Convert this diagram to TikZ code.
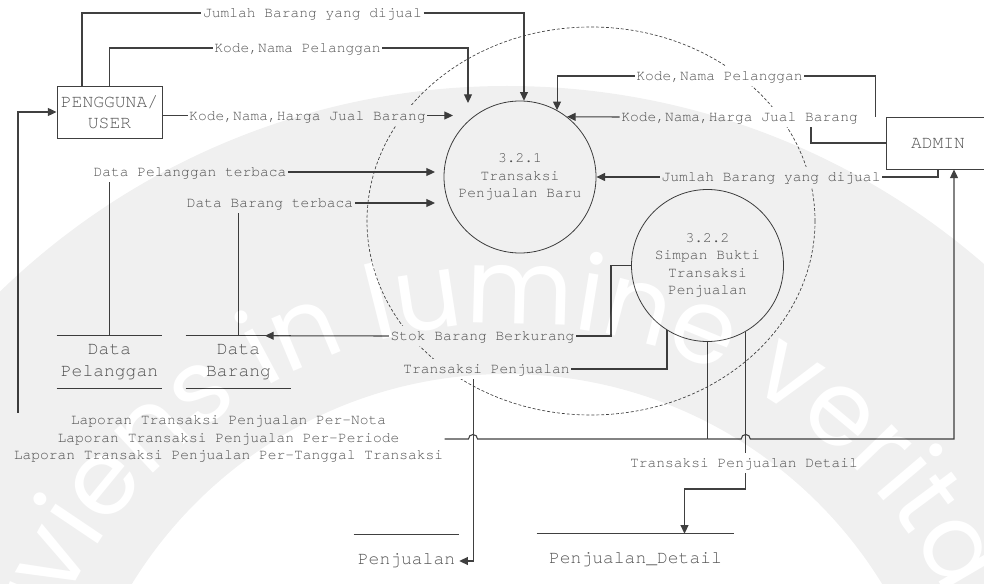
\documentclass[tikz,border=0pt]{standalone}
\usepackage{fontspec}
\setmonofont{TeX Gyre Cursor}
\newfontfamily\wmfont{Poppins}
\usetikzlibrary{arrows.meta,calc,decorations.text}
\definecolor{ink}{HTML}{404040}
\definecolor{txt}{HTML}{555555}
\pgfdeclarelayer{bg}
\pgfsetlayers{bg,main}
\begin{document}
\begin{tikzpicture}[x=0.75pt,y=-0.75pt,
  line/.style={draw=ink, line width=0.8pt},
  arr/.style={line, -{Triangle[length=6.5pt,width=6pt]}},
  entity/.style={draw=ink, line width=0.7pt, minimum width=78.75pt, minimum height=39pt,
    inner sep=0pt, align=center, text=txt, font=\fontsize{13.5}{15.75}\selectfont\ttfamily},
  proc/.style={circle, draw=ink, line width=0.6pt, minimum size=114pt, inner sep=0pt,
    align=center, text=txt, font=\fontsize{10.95}{13}\selectfont\ttfamily},
  store/.style={minimum width=78.75pt, minimum height=39pt, inner sep=0pt, align=center,
    text=txt, font=\fontsize{13.5}{16.5}\selectfont\ttfamily},
  flow/.style={fill=white, inner xsep=1pt, inner ysep=0pt, text height=11pt, text depth=4pt,
    text=txt, font=\fontsize{10.95}{13}\selectfont\ttfamily},
  flowm/.style={fill=white, inner xsep=1pt, inner ysep=2pt, align=center,
    text=txt, font=\fontsize{10.95}{13.1}\selectfont\ttfamily}]
\useasboundingbox (0,0) rectangle (984,584);

% external entities and processes
\node[entity] (user) at (109.5,112) {PENGGUNA/\\USER};
\node[entity, minimum width=78pt] (admin) at (938,143) {ADMIN};
\node[proc] (p1) at (520,177) {3.2.1\\Transaksi\\Penjualan Baru};
\node[proc] (p2) at (707.5,265.5) {3.2.2\\Simpan Bukti\\Transaksi\\Penjualan};

% data stores
\node[store] (dpel) at (109.5,362) {Data\\Pelanggan};
\node[store] (dbar) at (238.5,362) {Data\\Barang};
\node[store] (dpen) at (406.5,561) {Penjualan};
\node[store, minimum width=147.75pt] (ddet) at (635.5,560) {Penjualan\_Detail};
\foreach \s in {dpel,dbar,dpen,ddet}
  \draw[line] (\s.north west) -- (\s.north east) (\s.south west) -- (\s.south east);

% flow labels
\node[flow] (l1) at (312.5,13) {Jumlah Barang yang dijual};
\node[flow] (l2) at (297.5,48) {Kode,Nama Pelanggan};
\node[flow] (l3) at (307.5,115.5) {Kode,Nama,Harga Jual Barang};
\node[flow] (l4) at (190,172) {Data Pelanggan terbaca};
\node[flow] (l5) at (270,203) {Data Barang terbaca};
\node[flow] (l6) at (719.5,76) {Kode,Nama Pelanggan};
\node[flow] (l7) at (739.5,117) {Kode,Nama,Harga Jual Barang};
\node[flow] (l8) at (771,177) {Jumlah Barang yang dijual};
\node[flow] (l9) at (482.5,336) {Stok Barang Berkurang};
\node[flow] (l10) at (486.5,369) {Transaksi Penjualan};
\node[flowm] (l11) at (228.5,439) {Laporan Transaksi Penjualan Per-Nota\\Laporan Transaksi Penjualan Per-Periode\\Laporan Transaksi Penjualan Per-Tanggal Transaksi};
\node[flow] (l12) at (744,463) {Transaksi Penjualan Detail};

% process boundary
\begin{pgfonlayer}{bg}
\draw[ink, line width=0.5pt, dash pattern=on 2.2pt off 1.5pt]
  (591,221) ellipse [x radius=168pt, y radius=145.5pt];
\end{pgfonlayer}

% user -> 3.2.1
\draw[line] (user.north -| 82,0) |- (l1.west);
\draw[arr] (l1.east) -| (p1.87);
\draw[line] (user.north) |- (l2.west);
\coordinate (e2) at (468,103);
\draw[arr] (l2.east) -| (e2);
\draw[line] (user.east |- l3) -- (l3.west);
\coordinate (e3) at (453,115.5);
\draw[arr] (l3.east) -- (e3);

% stores -> 3.2.1
\draw[line] (dpel.north) -- (dpel.north |- l4.south);
\coordinate (e4) at (435,172);
\draw[arr] (l4.east) -- (e4);
\draw[line] (dbar.north) -- (dbar.north |- l5.south);
\coordinate (e5) at (435,203);
\draw[arr] (l5.east) -- (e5);

% admin -> 3.2.1
\draw[line] ([xshift=-7.5pt]admin.north west) |- (l6.east);
\draw[arr] (l6.west) -| (p1.61);
\draw[line] (admin.west) -| (l7.south -| 811,0);
\draw[arr] (l7.west) -- (p1.52);
\draw[line] (admin.south) |- (l8.east);
\draw[arr] (l8.west) -- (p1.east);

% 3.2.2 -> data stores
\draw[line] (p2.west) -| (l9.east -| 611,0) -- (l9.east);
\draw[arr] (l9.west) -- ([xshift=19.9pt]dbar.north);
\draw[line] (p2.238) |- (l10.east);
\coordinate (pv) at ([xshift=-10.1pt]l10.south);
\draw[arr] (pv) |- (dpen.east);
\draw[line] (p2.300) -- (p2.300 |- l12.north);
\draw[arr] (p2.300 |- l12.south) -- (p2.300 |- 0,489) -| ([xshift=36.75pt]ddet.north);

% 3.2.2 -> reports to user and admin
\coordinate (jn) at (p2.south |- 0,439);
\coordinate (hx1) at (pv |- jn);
\coordinate (hx2) at (p2.300 |- jn);
\coordinate (ain) at ([xshift=12pt]admin.south);
\draw[line] (p2.south) -- (jn);
\draw[line] (jn) -- ($(hx1)+(4.5,0)$) arc[start angle=0, end angle=180, radius=3.4pt] -- (l11.east);
\draw[arr] (l11.north -| 18,0) |- (user.west);
\draw[arr] (jn) -- ($(hx2)+(-4.5,0)$) arc[start angle=180, end angle=0, radius=3.4pt] -- (ain |- jn) -- (ain);

% faint seal in the background
\begin{scope}[transparency group, opacity=0.06]
  \coordinate (wm) at (507,814);
  \fill[black, even odd rule] (wm) circle[radius=546pt] (wm) circle[radius=330pt];
  \path[decorate, decoration={text along path, text align=center,
      text={|\wmfont\fontsize{78}{78}\selectfont\color{white}|Serviens in lumine veritatis}}]
    ($(wm)+(213:367.5pt)$) arc[start angle=213, end angle=-27, radius=367.5pt];
\end{scope}
\end{tikzpicture}
\end{document}
